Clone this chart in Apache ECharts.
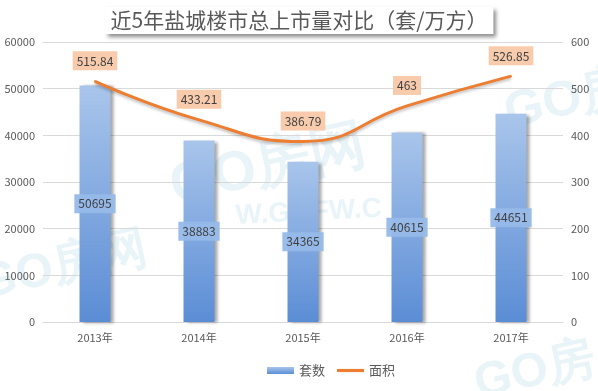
<!DOCTYPE html>
<html><head><meta charset="utf-8">
<script src="https://cdn.jsdelivr.net/npm/echarts@6/dist/echarts.min.js"></script>
<style>html,body{margin:0;padding:0;background:#fff}#c{width:598px;height:391px}</style>
</head><body><div id="c"></div>
<script>
var categories = ['2013年','2014年','2015年','2016年','2017年'];
var unitsSold = [50695, 38883, 34365, 40615, 44651];
var areaValues = [515.84, 433.21, 386.79, 463, 526.85];
var leftTicks = [0, 60000, 10000];
var rightTicks = [0, 600, 100];
var titleText = '近5年盐城楼市总上市量对比（套/万方）';

var font = '"Noto Sans CJK SC", "Microsoft YaHei", sans-serif';
var chart = echarts.init(document.getElementById('c'), null, {renderer:'canvas'});
var wm = 'rgba(150,205,222,0.22)';
function wmText(x,y,txt,size,rot){
  return {type:'text', left:x, top:y, rotation:rot, z:-10, silent:true,
    style:{text:txt, fill:wm, font:'bold '+size+'px Verdana, sans-serif'}};
}
chart.setOption({
  backgroundColor:'#fff',
  title:{text:titleText, left:'center', top:7,
    backgroundColor:'#fff', padding:[3,6,3,6],
    shadowColor:'rgba(0,0,0,0.45)', shadowBlur:4, shadowOffsetX:3, shadowOffsetY:3,
    textStyle:{color:'#595959', fontSize:21, fontWeight:'normal', fontFamily:font}},
  graphic:[
    wmText(165,118,'GO房网',56,0.22),
    wmText(235,195,'W.GOFW.C',28,0.05),
    wmText(500,62,'GO房',50,0.22),
    wmText(-25,225,'GO房网',48,0.22),
    wmText(470,335,'GO房',48,0.22)
  ],
  legend:{bottom:9, left:262, itemWidth:27, itemHeight:7, itemGap:12,
    symbolKeepAspect:true,
    textStyle:{color:'#595959', fontSize:13, fontFamily:font},
    data:[{name:'套数', icon:'rect'},
          {name:'面积', icon:'path://M0,0H30V3.5H0Z', itemStyle:{color:'#ED7D31'}}]},
  grid:{left:43, right:35, top:42, bottom:69},
  xAxis:{type:'category', data:categories,
    axisLine:{lineStyle:{color:'#D9D9D9'}}, axisTick:{show:false},
    axisLabel:{color:'#595959', fontSize:11, margin:10, fontFamily:font}},
  yAxis:[
    {type:'value', min:leftTicks[0], max:leftTicks[1], interval:leftTicks[2],
     axisLine:{show:false}, axisTick:{show:false},
     splitLine:{lineStyle:{color:'#D9D9D9'}},
     axisLabel:{color:'#595959', fontSize:11, margin:8, fontFamily:font,
       formatter:function(v){return String(v);}}},
    {type:'value', min:rightTicks[0], max:rightTicks[1], interval:rightTicks[2],
     axisLine:{show:false}, axisTick:{show:false}, splitLine:{show:false},
     axisLabel:{color:'#595959', fontSize:11, margin:8, fontFamily:font}}
  ],
  series:[
    {name:'套数', type:'bar', data:unitsSold, barWidth:31, yAxisIndex:0, z:2,
     itemStyle:{color:new echarts.graphic.LinearGradient(0,0,0,1,[
        {offset:0,color:'#A9C5EB'},{offset:1,color:'#5B8DD5'}]),
        shadowColor:'rgba(0,0,0,0.35)', shadowBlur:3, shadowOffsetX:3, shadowOffsetY:1},
     label:{show:true, position:'inside', color:'#404040', fontSize:12, fontFamily:font,
        textBorderWidth:0, textShadowBlur:0,
        backgroundColor:'rgba(150,185,232,0.95)', padding:[4,4,3,4]}},
    {name:'面积', type:'line', data:areaValues, yAxisIndex:1, smooth:0.5, z:3,
     showSymbol:true, symbol:'circle', symbolSize:2,
     lineStyle:{color:'#ED7D31', width:3, shadowColor:'rgba(0,0,0,0.25)', shadowBlur:3, shadowOffsetY:2},
     itemStyle:{color:'#ED7D31'},
     label:{show:true, position:'top', distance:10, color:'#404040', fontSize:12, fontFamily:font,
        textBorderWidth:0, textShadowBlur:0,
        backgroundColor:'#F8CBAD', padding:[4,4,3,4]}}
  ]
});
</script></body></html>
